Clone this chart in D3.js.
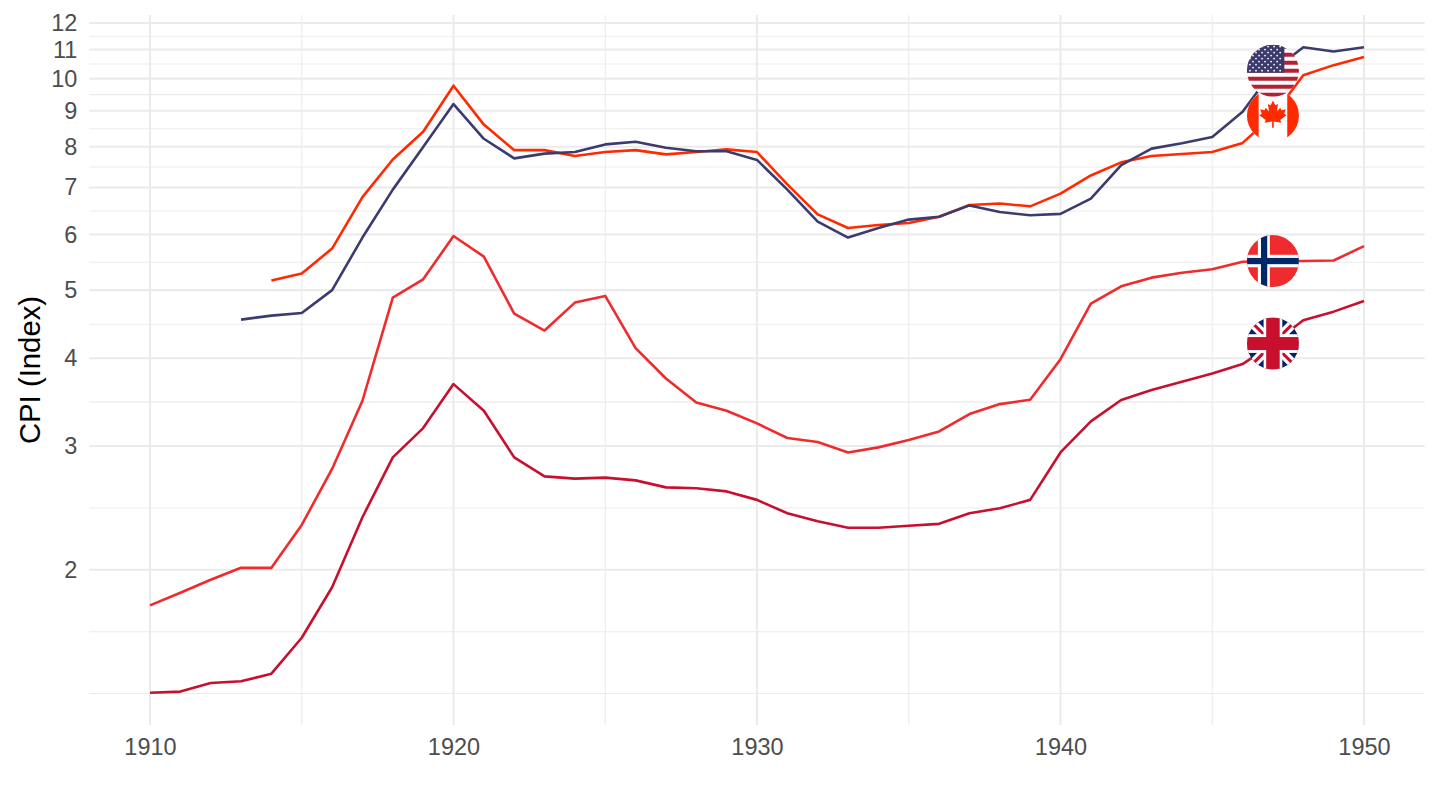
<!DOCTYPE html>
<html>
<head>
<meta charset="utf-8">
<script src="https://cdn.jsdelivr.net/npm/d3@7"></script>
<style>
  html, body { margin: 0; padding: 0; background: #fff; }
  svg { display: block; font-family: "Liberation Sans", Arial, sans-serif; }
  .tick-label { fill: #4d4d4d; font-size: 23.5px; }
  .axis-title { fill: #000; font-size: 29.3px; }
</style>
</head>
<body>
<svg id="chart" width="1440" height="810"></svg>
<script>
// ---------- Data (CPI index) ----------
const years = d3.range(1910, 1951);

// null = no observation for that year
const usCPI = [null, null, null, 4.54, 4.60, 4.64, 5.00, 5.94, 6.95, 7.99,
  9.20, 8.21, 7.70, 7.82, 7.86, 8.06, 8.13, 7.97, 7.88, 7.88,
  7.66, 6.95, 6.26, 5.94, 6.13, 6.30, 6.36, 6.60, 6.46, 6.39,
  6.42, 6.75, 7.53, 7.95, 8.09, 8.26, 8.97, 10.26, 11.08, 10.93, 11.08];

const canadaCPI = [null, null, null, null, 5.16, 5.28, 5.73, 6.78, 7.67, 8.40,
  9.77, 8.60, 7.91, 7.91, 7.76, 7.86, 7.91, 7.80, 7.86, 7.93,
  7.86, 7.07, 6.41, 6.13, 6.19, 6.23, 6.36, 6.61, 6.64, 6.58,
  6.86, 7.28, 7.60, 7.76, 7.81, 7.86, 8.10, 8.86, 10.11, 10.45, 10.73];

const norwayCPI = [1.78, 1.855, 1.936, 2.013, 2.013, 2.317, 2.783, 3.48, 4.88, 5.18,
  5.97, 5.58, 4.63, 4.38, 4.80, 4.906, 4.135, 3.743, 3.46, 3.368,
  3.231, 3.08, 3.04, 2.938, 2.987, 3.06, 3.147, 3.332, 3.442, 3.491,
  3.988, 4.784, 5.064, 5.209, 5.294, 5.353, 5.488, 5.50, 5.50, 5.51, 5.777];

const ukCPI = [1.337, 1.342, 1.380, 1.388, 1.423, 1.601, 1.889, 2.376, 2.891, 3.182,
  3.675, 3.368, 2.891, 2.716, 2.696, 2.705, 2.681, 2.620, 2.612, 2.586,
  2.515, 2.407, 2.345, 2.295, 2.295, 2.310, 2.325, 2.407, 2.447, 2.515,
  2.938, 3.252, 3.488, 3.604, 3.703, 3.805, 3.924, 4.197, 4.531, 4.66, 4.826];

const countries = ["Canada", "Norway", "United Kingdom", "United States"];
const seriesValues = [canadaCPI, norwayCPI, ukCPI, usCPI];
const lineColors = ["#ff2a00", "#ef2b2d", "#c8102e", "#3c3b6e"];
const flagKeys = ["ca", "no", "gb", "us"];

const yBreaks = [2, 3, 4, 5, 6, 7, 8, 9, 10, 11, 12];
const xBreaks = [1910, 1920, 1930, 1940, 1950];
const xMinor = [1915, 1925, 1935, 1945];
const flagYear = 1947;

// ---------- Layout ----------
const svg = d3.select("#chart");
const panel = { top: 15, bottom: 725 };

// ggplot-style 5% expansion
const xExt = d3.extent(years);
const xPad = (xExt[1] - xExt[0]) * 0.05;
const x = d3.scaleLinear()
  .domain([xExt[0] - xPad, xExt[1] + xPad])
  .range([89.3, 1424.7]);

const allVals = seriesValues.flat().filter(v => v != null);
const lnExt = d3.extent(allVals).map(Math.log);
const lnPad = (lnExt[1] - lnExt[0]) * 0.05;
const y = d3.scaleLog()
  .domain([Math.exp(lnExt[0] - lnPad), Math.exp(lnExt[1] + lnPad)])
  .range([panel.bottom, panel.top]);

// ---------- Minor breaks (midpoints in log space) ----------
function logMinor(breaks, scale) {
  const b = breaks.map(Math.log);
  const [lo, hi] = scale.domain().map(Math.log);
  if (lo < b[0]) b.unshift(b[0] - (b[1] - b[0]));
  if (hi > b[b.length - 1]) b.push(b[b.length - 1] + (b[b.length - 1] - b[b.length - 2]));
  const out = [];
  for (let i = 0; i < b.length; i++) {
    out.push(b[i]);
    if (i < b.length - 1) out.push((b[i] + b[i + 1]) / 2);
  }
  const major = new Set(breaks.map(v => Math.log(v).toFixed(6)));
  return out.filter(v => v >= lo && v <= hi && !major.has(v.toFixed(6))).map(Math.exp);
}
const yMinor = logMinor(yBreaks, y);

// ---------- Grid ----------
const grid = svg.append("g").attr("class", "grid");
const [px0, px1] = x.range();

grid.selectAll(".ymin").data(yMinor).enter().append("line")
  .attr("x1", px0).attr("x2", px1)
  .attr("y1", d => y(d)).attr("y2", d => y(d))
  .attr("stroke", "#ebebeb").attr("stroke-width", 1.1);

grid.selectAll(".xmin").data(xMinor).enter().append("line")
  .attr("x1", d => x(d)).attr("x2", d => x(d))
  .attr("y1", panel.top).attr("y2", panel.bottom)
  .attr("stroke", "#ebebeb").attr("stroke-width", 1.1);

grid.selectAll(".ymaj").data(yBreaks).enter().append("line")
  .attr("x1", px0).attr("x2", px1)
  .attr("y1", d => y(d)).attr("y2", d => y(d))
  .attr("stroke", "#ebebeb").attr("stroke-width", 2.1);

grid.selectAll(".xmaj").data(xBreaks).enter().append("line")
  .attr("x1", d => x(d)).attr("x2", d => x(d))
  .attr("y1", panel.top).attr("y2", panel.bottom)
  .attr("stroke", "#ebebeb").attr("stroke-width", 2.1);

// ---------- Axes (labels only, theme_minimal) ----------
const yAxisG = svg.append("g").attr("transform", `translate(${px0},0)`)
  .call(d3.axisLeft(y).tickValues(yBreaks).tickFormat(d3.format("d")).tickSize(0).tickPadding(12));
const xAxisG = svg.append("g").attr("transform", `translate(0,${panel.bottom})`)
  .call(d3.axisBottom(x).tickValues(xBreaks).tickFormat(d3.format("d")).tickSize(0).tickPadding(13));

[yAxisG, xAxisG].forEach(g => {
  g.select(".domain").remove();
  g.attr("font-family", null).attr("font-size", null);
  g.selectAll("text").attr("class", "tick-label").attr("fill", null);
});

svg.append("text")
  .attr("class", "axis-title")
  .attr("transform", `translate(40,${(panel.top + panel.bottom) / 2}) rotate(-90)`)
  .attr("text-anchor", "middle")
  .text("CPI (Index)");

// ---------- Lines ----------
const line = d3.line()
  .defined(d => d.v != null)
  .x(d => x(d.year))
  .y(d => y(d.v));

const series = countries.map((c, i) => ({
  country: c,
  color: lineColors[i],
  flag: flagKeys[i],
  values: years.map((yr, j) => ({ year: yr, v: seriesValues[i][j] }))
}));

svg.append("g").selectAll("path").data(series).enter().append("path")
  .attr("d", d => line(d.values))
  .attr("fill", "none")
  .attr("stroke", d => d.color)
  .attr("stroke-width", 2.6)
  .attr("stroke-linejoin", "round");

// ---------- Round flags at 1947 ----------
const R = 26;
const defs = svg.append("defs");
defs.append("clipPath").attr("id", "flag-clip")
  .append("circle").attr("cx", 0).attr("cy", 0).attr("r", R);

const leafPts = [[0,-1],[0.17,-0.66],[0.36,-0.76],[0.28,-0.22],[0.52,-0.48],[0.6,-0.3],
  [0.92,-0.38],[0.8,-0.05],[0.97,0.05],[0.52,0.4],[0.6,0.58],[0.06,0.5],[0.06,0.95]];
const leaf = leafPts.concat(leafPts.slice().reverse().map(p => [-p[0], p[1]]));

const flagDraw = {
  us(g) {
    const h = 2 * R / 13;
    g.append("rect").attr("x", -R).attr("y", -R).attr("width", 2 * R).attr("height", 2 * R).attr("fill", "#fff");
    d3.range(0, 13, 2).forEach(i => {
      g.append("rect").attr("x", -R).attr("y", -R + i * h).attr("width", 2 * R).attr("height", h).attr("fill", "#b22234");
    });
    const cw = 0.72 * 2 * R, ch = 7 * h;
    g.append("rect").attr("x", -R).attr("y", -R).attr("width", cw).attr("height", ch).attr("fill", "#3c3b6e");
    for (let r = 0; r < 9; r++) {
      const n = r % 2 ? 5 : 6;
      for (let c = 0; c < n; c++) {
        g.append("circle")
          .attr("cx", -R + (c + (r % 2 ? 1 : 0.5)) * cw / 6.2)
          .attr("cy", -R + (r + 0.6) * ch / 9.3)
          .attr("r", 0.9).attr("fill", "#fff");
      }
    }
  },
  ca(g) {
    g.append("rect").attr("x", -R).attr("y", -R).attr("width", 2 * R).attr("height", 2 * R).attr("fill", "#fff");
    g.append("rect").attr("x", -R).attr("y", -R).attr("width", 0.45 * R).attr("height", 2 * R).attr("fill", "#ff2a00");
    g.append("rect").attr("x", 0.55 * R).attr("y", -R).attr("width", 0.45 * R).attr("height", 2 * R).attr("fill", "#ff2a00");
    g.append("path")
      .attr("d", "M" + leaf.map(p => [p[0] * 14, p[1] * 14 - 1].join(",")).join("L") + "Z")
      .attr("fill", "#ff2a00");
  },
  no(g) {
    g.append("rect").attr("x", -R).attr("y", -R).attr("width", 2 * R).attr("height", 2 * R).attr("fill", "#ef2b2d");
    g.append("rect").attr("x", -0.58 * R).attr("y", -R).attr("width", 0.46 * R).attr("height", 2 * R).attr("fill", "#fff");
    g.append("rect").attr("x", -R).attr("y", -0.24 * R).attr("width", 2 * R).attr("height", 0.48 * R).attr("fill", "#fff");
    g.append("rect").attr("x", -0.46 * R).attr("y", -R).attr("width", 0.24 * R).attr("height", 2 * R).attr("fill", "#002868");
    g.append("rect").attr("x", -R).attr("y", -0.12 * R).attr("width", 2 * R).attr("height", 0.24 * R).attr("fill", "#002868");
  },
  gb(g) {
    g.append("rect").attr("x", -R).attr("y", -R).attr("width", 2 * R).attr("height", 2 * R).attr("fill", "#012169");
    const diag = `M${-R},${-R}L${R},${R}M${R},${-R}L${-R},${R}`;
    g.append("path").attr("d", diag).attr("stroke", "#fff").attr("stroke-width", 0.36 * R);
    g.append("path").attr("d", diag).attr("stroke", "#c8102e").attr("stroke-width", 0.12 * R);
    g.append("rect").attr("x", -0.36 * R).attr("y", -R).attr("width", 0.72 * R).attr("height", 2 * R).attr("fill", "#fff");
    g.append("rect").attr("x", -R).attr("y", -0.36 * R).attr("width", 2 * R).attr("height", 0.72 * R).attr("fill", "#fff");
    g.append("rect").attr("x", -0.26 * R).attr("y", -R).attr("width", 0.52 * R).attr("height", 2 * R).attr("fill", "#c8102e");
    g.append("rect").attr("x", -R).attr("y", -0.25 * R).attr("width", 2 * R).attr("height", 0.5 * R).attr("fill", "#c8102e");
  }
};

const fi = years.indexOf(flagYear);
const flags = svg.append("g").selectAll("g").data(series).enter().append("g")
  .attr("transform", d => `translate(${x(flagYear)},${y(d.values[fi].v)})`);
flags.each(function (d) {
  const inner = d3.select(this).append("g").attr("clip-path", "url(#flag-clip)");
  flagDraw[d.flag](inner);
});
</script>
</body>
</html>
